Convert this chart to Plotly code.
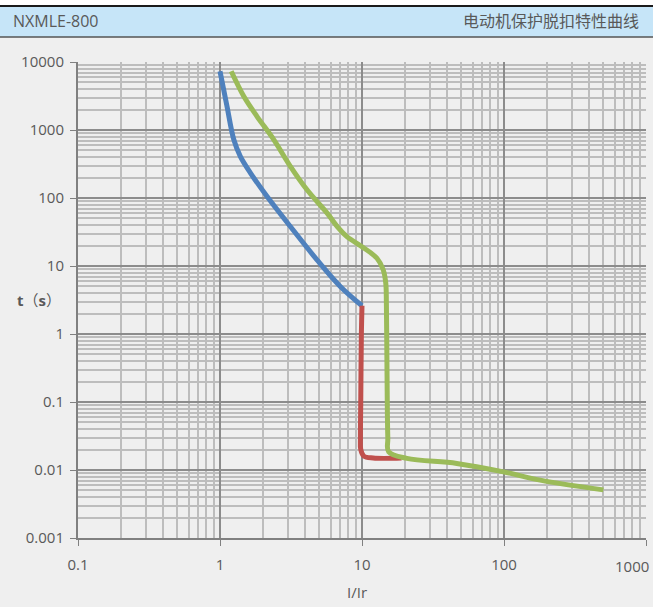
import plotly.graph_objects as go

# I/Ir multiples and trip times (s)
blue_x = [1.0, 1.12, 1.25, 1.39, 1.64, 2.14, 3.13, 4.82, 7.03, 10.0]
blue_t = [7300, 2230, 723, 410, 233, 106, 38, 12.3, 5.0, 2.6]

red_x = [10.0, 9.9, 9.8, 9.75, 9.8, 10.3, 12.0, 19.0]
red_t = [2.6, 1.0, 0.1, 0.03, 0.02, 0.016, 0.015, 0.015]

green_x = [1.20, 1.47, 1.82, 2.39, 3.13, 4.10, 5.68, 6.84, 7.83, 10.3, 12.75, 14.1, 14.7,
           14.85, 15.0, 15.2, 15.4, 20.7, 46.5, 99, 180, 501]
green_t = [7300, 3130, 1590, 723, 292, 132, 60, 36, 27, 18.4, 13, 8.8, 5.6,
           2.84, 0.3, 0.03, 0.0185, 0.0148, 0.0125, 0.0094, 0.0071, 0.0051]

x_ticks = [0.1, 1, 10, 100, 1000]
x_labels = ["0.1", "1", "10", "100", "1000"]
y_ticks = [0.001, 0.01, 0.1, 1, 10, 100, 1000, 10000]
y_labels = ["0.001", "0.01", "0.1", "1", "10", "100", "1000", "10000"]

W, H = 653, 607
L, R, T, B = 78, 7, 62, 69
TXT = "#595959"
FONT = "Open Sans, Noto Sans CJK SC, sans-serif"


def px(x):
    return (x - L) / (W - L - R)


def py(y):
    return (H - B - y) / (H - T - B)


fig = go.Figure()
fig.add_trace(go.Scatter(x=blue_x, y=blue_t, mode="lines",
                         line=dict(color="#4F81BD", width=5, shape="spline")))
fig.add_trace(go.Scatter(x=red_x, y=red_t, mode="lines",
                         line=dict(color="#C0504D", width=5, shape="spline")))
fig.add_trace(go.Scatter(x=green_x, y=green_t, mode="lines",
                         line=dict(color="#9BBB59", width=5, shape="spline")))

axis_common = dict(
    type="log",
    showgrid=True, gridcolor="#8c8c8c", gridwidth=1.5,
    minor=dict(dtick="D1", showgrid=True, gridcolor="#bdbdbd", gridwidth=1.5,
               ticks=""),
    showline=True, linecolor="#808080", linewidth=2,
    ticks="outside", ticklen=6, tickcolor="#808080", tickwidth=1,
    tickfont=dict(size=15, color=TXT, family=FONT),
    zeroline=False,
)

# last x label is drawn as an annotation (shifted left so it stays inside the page)
fig.update_xaxes(range=[-1, 3], tickvals=x_ticks, ticktext=x_labels[:-1] + [""],
                 ticklabelstandoff=6, **axis_common)
fig.update_yaxes(range=[-3, 4], tickvals=y_ticks, ticktext=y_labels,
                 ticklabelstandoff=3, **axis_common)

shapes = [
    dict(type="rect", xref="paper", yref="paper", x0=px(0), x1=px(W), y0=py(0), y1=py(5),
         fillcolor="white", line=dict(width=0), layer="below"),
    dict(type="rect", xref="paper", yref="paper", x0=px(0), x1=px(W), y0=py(5), y1=py(7),
         fillcolor="#1a1a1a", line=dict(width=0)),
    dict(type="rect", xref="paper", yref="paper", x0=px(0), x1=px(W), y0=py(7), y1=py(37),
         fillcolor="#c6e5f8", line=dict(width=0)),
    dict(type="line", xref="paper", yref="paper", x0=px(0), x1=px(W), y0=py(37), y1=py(37),
         line=dict(color="#555555", width=1.5)),
]

annotations = [
    dict(text="NXMLE-800", xref="paper", yref="paper", x=px(11), y=py(21),
         xanchor="left", yanchor="middle", showarrow=False,
         font=dict(size=16, color=TXT, family=FONT)),
    dict(text="电动机保护脱扣特性曲线", xref="paper", yref="paper", x=px(641), y=py(21),
         xanchor="right", yanchor="middle", showarrow=False,
         font=dict(size=16, color=TXT, family=FONT)),
    dict(text="<b>t</b>（<b>s</b>）", xref="paper", yref="paper", x=px(39), y=py(300),
         xanchor="center", yanchor="middle", showarrow=False,
         font=dict(size=15, color=TXT, family=FONT)),
    dict(text="I/Ir", xref="paper", yref="paper", x=px(357), y=py(592),
         xanchor="center", yanchor="middle", showarrow=False,
         font=dict(size=15, color=TXT, family=FONT)),
    dict(text=x_labels[-1], xref="x", yref="paper", x=3, y=py(566),
         xanchor="right", yanchor="middle", xshift=5, showarrow=False,
         font=dict(size=15, color=TXT, family=FONT)),
]

fig.update_layout(
    width=W, height=H,
    margin=dict(l=L, r=R, t=T, b=B),
    paper_bgcolor="#efefef", plot_bgcolor="#efefef",
    showlegend=False,
    shapes=shapes, annotations=annotations,
)

fig.write_html("out.html", config={"displayModeBar": False},
               post_script="document.body.style.margin='0';"
                           "document.body.style.overflow='hidden';")
